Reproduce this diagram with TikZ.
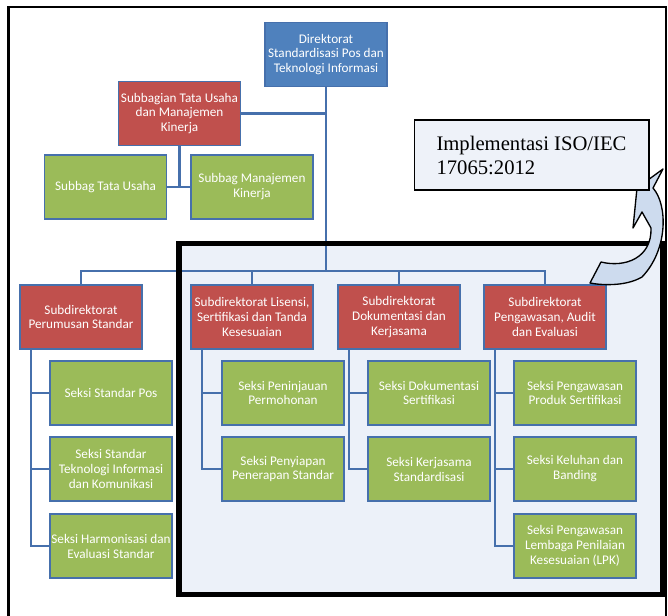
\documentclass[tikz,border=0pt]{standalone}
\usepackage{fontspec}
\setmainfont{Carlito}
\newfontfamily\calloutfont{Liberation Serif}
\usepackage{tikz}
\usetikzlibrary{positioning, calc}
\definecolor{dirblue}{RGB}{79, 129, 189}
\definecolor{subred}{RGB}{192, 80, 77}
\definecolor{seksigreen}{RGB}{155, 187, 89}
\definecolor{edgeblue}{RGB}{70, 112, 172}
\definecolor{focusbg}{RGB}{236, 241, 249}
\definecolor{calloutbg}{RGB}{238, 242, 249}
\definecolor{arrowfill}{RGB}{205, 219, 238}

\begin{document}
\begin{tikzpicture}[x=0.75pt, y=-0.75pt,
    box/.style={rectangle, draw=edgeblue, line width=1.3pt, minimum width=91.5pt, minimum height=48pt, inner sep=1pt, align=center, text=white, font=\fontsize{9.9}{11.2}\selectfont},
    direktorat/.style={box, fill=dirblue},
    subdir/.style={box, fill=subred},
    seksi/.style={box, fill=seksigreen},
    link/.style={draw=edgeblue, line width=1.8pt}
]
    \useasboundingbox (0,0) rectangle (668,616);

    % Frames
    \draw[line width=2pt] (8.5,630) -- (8.5,7) -- (666,7) -- (666,630);
    \fill[focusbg] (179,243.5) rectangle (662.5,594.5);

    % Top level
    \node[direktorat] (dir) at (326,54.5) {Direktorat\\Standardisasi Pos dan\\Teknologi Informasi};
    \node[subdir] (subbag) at (179.5,113.5) {Subbagian Tata Usaha\\dan Manajemen\\Kinerja};
    \node[seksi] (tu) at (105.5,187) {Subbag Tata Usaha};
    \node[seksi] (mk) at (252,187) {Subbag Manajemen\\Kinerja};

    % Subdirektorat
    \node[subdir] (perumusan) at (81,317) {Subdirektorat\\Perumusan Standar};
    \node[subdir] (lisensi) at (252,317) {Subdirektorat Lisensi,\\Sertifikasi dan Tanda\\Kesesuaian};
    \node[subdir] (dokumentasi) at (399,317) {Subdirektorat\\Dokumentasi dan\\Kerjasama};
    \node[subdir] (pengawasan) at (545,317) {Subdirektorat\\Pengawasan, Audit\\dan Evaluasi};

    % Seksi
    \node[seksi] (pos) at (111,393) {Seksi Standar Pos};
    \node[seksi] (tik) at (111,469) {Seksi Standar\\Teknologi Informasi\\dan Komunikasi};
    \node[seksi] (harmonisasi) at (111,546) {Seksi Harmonisasi dan\\Evaluasi Standar};
    \node[seksi] (peninjauan) at (283,393) {Seksi Peninjauan\\Permohonan};
    \node[seksi] (penyiapan) at (283,469) {Seksi Penyiapan\\Penerapan Standar};
    \node[seksi] (dokser) at (429,393) {Seksi Dokumentasi\\Sertifikasi};
    \node[seksi] (kerjasama) at (429,469) {Seksi Kerjasama\\Standardisasi};
    \node[seksi] (produk) at (575,393) {Seksi Pengawasan\\Produk Sertifikasi};
    \node[seksi] (keluhan) at (575,469) {Seksi Keluhan dan\\Banding};
    \node[seksi] (lpk) at (575,546) {Seksi Pengawasan\\Lembaga Penilaian\\Kesesuaian (LPK)};

    % Connections
    \coordinate (bus) at (326,271);
    \draw[link] (dir) -- (bus);
    \draw[link] (subbag) -- (subbag -| dir);
    \draw[link] (subbag) -- (subbag |- tu);
    \draw[link] (tu) -- (mk);
    \foreach \n in {perumusan, lisensi, dokumentasi, pengawasan}
        \draw[link] (bus) -| (\n);
    \foreach \c in {pos, tik, harmonisasi}
        \draw[link] ([xshift=9pt]perumusan.south west) |- (\c);
    \foreach \c in {peninjauan, penyiapan}
        \draw[link] ([xshift=9pt]lisensi.south west) |- (\c);
    \foreach \c in {dokser, kerjasama}
        \draw[link] ([xshift=9pt]dokumentasi.south west) |- (\c);
    \foreach \c in {produk, keluhan, lpk}
        \draw[link] ([xshift=9pt]pengawasan.south west) |- (\c);

    % Focus frame
    \draw[line width=3.8pt] (179,243.5) rectangle (662.5,594.5);

    % Curved arrow
    \draw[fill=arrowfill, line width=1pt, line join=round]
        (637,188) -- (663,169) -- (653,188)
        .. controls (668,205) and (668,250) .. (642,277)
        .. controls (625,287) and (600,285) .. (590,283)
        -- (601,262)
        .. controls (625,268) and (652,258) .. (651,228)
        -- (642,212) -- (633,228) -- cycle;

    % Callout
    \node[draw, line width=1pt, fill=calloutbg, minimum width=176pt, minimum height=52.5pt, align=left, font=\calloutfont\fontsize{15.5}{18}\selectfont] (iso) at (531.5,155) {Implementasi ISO/IEC\\17065:2012};
\end{tikzpicture}
\end{document}
